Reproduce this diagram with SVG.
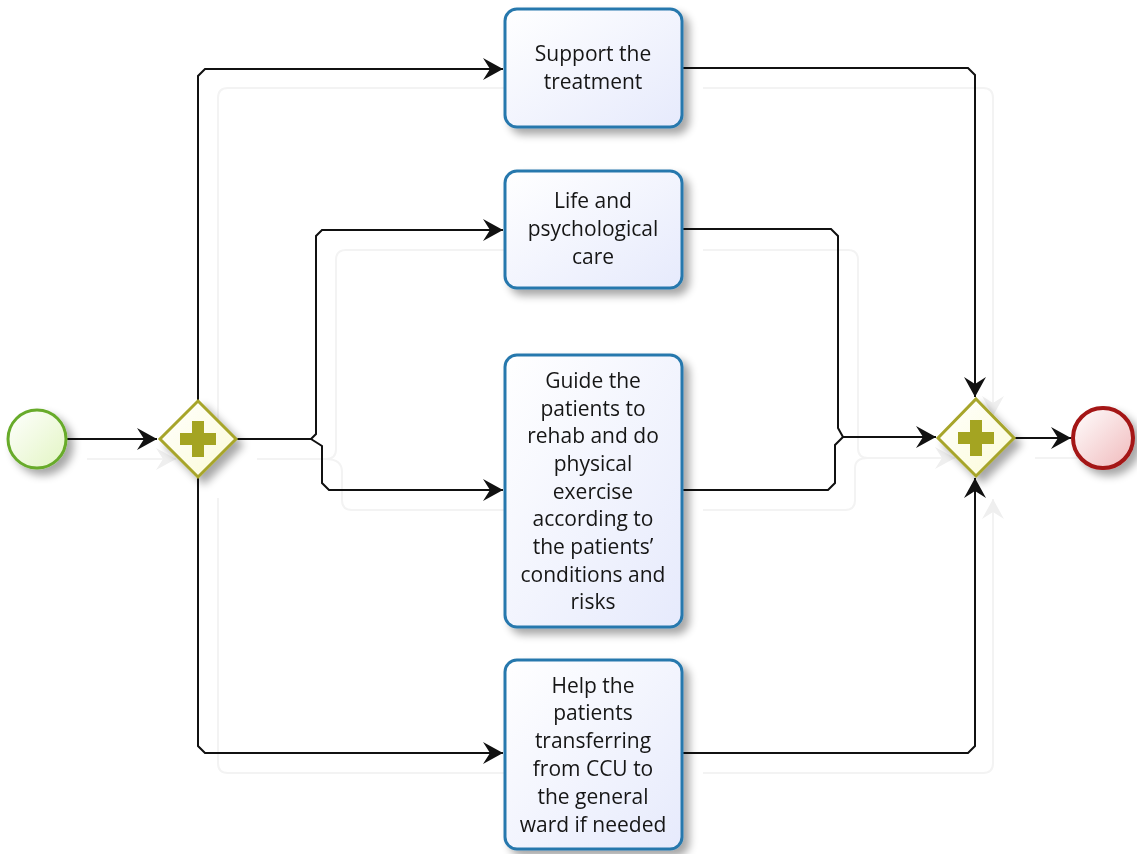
<svg xmlns="http://www.w3.org/2000/svg" width="1137" height="854" viewBox="0 0 1137 854">
  <style>
    .flow { fill: none; stroke: #111; stroke-width: 2; stroke-linejoin: miter; }
    .ghost { fill: none; stroke: #f3f3f3; stroke-width: 2; }
    .task rect { fill: url(#taskFill); stroke: #2878ad; stroke-width: 3; }
    .task text { font-family: "Open Sans", "Noto Sans", "DejaVu Sans", sans-serif; font-size: 21px; fill: #161616; text-anchor: middle; }
    .gw polygon { fill: url(#gwFill); stroke: #a7a52b; stroke-width: 3; stroke-linejoin: miter; }
    .gw path { fill: #a4a424; }
  </style>
  <defs>
    <linearGradient id="taskFill" x1="0" y1="0" x2="1" y2="1">
      <stop offset="0" stop-color="#ffffff"/>
      <stop offset="1" stop-color="#e6eafc"/>
    </linearGradient>
    <linearGradient id="gwFill" x1="0" y1="0" x2="1" y2="1">
      <stop offset="0" stop-color="#ffffff"/>
      <stop offset="1" stop-color="#fbfbd6"/>
    </linearGradient>
    <linearGradient id="startFill" x1="0" y1="0" x2="1" y2="1">
      <stop offset="0" stop-color="#ffffff"/>
      <stop offset="1" stop-color="#e2f5c2"/>
    </linearGradient>
    <linearGradient id="endFill" x1="0" y1="0" x2="1" y2="1">
      <stop offset="0" stop-color="#ffffff"/>
      <stop offset="1" stop-color="#f0b9bb"/>
    </linearGradient>
    <filter id="shadow" x="-20%" y="-20%" width="150%" height="150%">
      <feGaussianBlur in="SourceAlpha" stdDeviation="4"/>
      <feOffset dx="6" dy="6" result="blur"/>
      <feComponentTransfer><feFuncA type="linear" slope="0.35"/></feComponentTransfer>
      <feMerge><feMergeNode/><feMergeNode in="SourceGraphic"/></feMerge>
    </filter>
    <marker id="arrow" viewBox="-21 -12 23 24" refX="0" refY="0" markerWidth="23" markerHeight="24" markerUnits="userSpaceOnUse" orient="auto">
      <path d="M0,0 L-20,-11 L-13,0 L-20,11 Z" fill="#111"/>
    </marker>
    <marker id="ghostArrow" viewBox="-21 -12 23 24" refX="0" refY="0" markerWidth="23" markerHeight="24" markerUnits="userSpaceOnUse" orient="auto">
      <path d="M0,0 L-20,-11 L-13,0 L-20,11 Z" fill="#efefef"/>
    </marker>
  </defs>

  <rect width="1137" height="854" fill="#ffffff"/>

  <!-- faint offset copy of the flows -->
  <g id="ghost-flows" class="ghost">
    <path d="M87,459 H176" marker-end="url(#ghostArrow)"/>
    <path d="M218,420 V98 Q218,88 228,88 H524"/>
    <path d="M218,498 V763 Q218,773 228,773 H524"/>
    <path d="M257,459 H326 Q336,459 336,449 V260 Q336,250 346,250 H524"/>
    <path d="M326,459 Q342,459 342,472 V500 Q342,510 352,510 H524"/>
    <path d="M703,88 H983 Q993,88 993,98 V416" marker-end="url(#ghostArrow)"/>
    <path d="M703,250 H848 Q858,250 858,260 V448 Q858,458 868,458 H955" marker-end="url(#ghostArrow)"/>
    <path d="M703,510 H845 Q855,510 855,500 V468 Q855,458 868,458"/>
    <path d="M703,773 H983 Q993,773 993,763 V499" marker-end="url(#ghostArrow)"/>
    <path d="M1035,458 H1090"/>
  </g>

  <!-- sequence flows -->
  <g id="connectors" class="flow">
    <path d="M67,439 H157" marker-end="url(#arrow)"/>
    <path d="M198,400 V76 L205,69 H503" marker-end="url(#arrow)"/>
    <path d="M198,478 V746 L205,753 H503" marker-end="url(#arrow)"/>
    <path d="M237,439 H311 L316,434 V236 L322,230 H503" marker-end="url(#arrow)"/>
    <path d="M311,439 L322,446 V483 L329,490 H503" marker-end="url(#arrow)"/>
    <path d="M683,68 H968 L975,75 V397" marker-end="url(#arrow)"/>
    <path d="M683,229 H831 L838,236 V428 L843,437 H936" marker-end="url(#arrow)"/>
    <path d="M683,490 H828 L835,483 V445 L843,437"/>
    <path d="M683,753 H968 L975,746 V478" marker-end="url(#arrow)"/>
    <path d="M1015,438 H1071" marker-end="url(#arrow)"/>
  </g>

  <g id="start" filter="url(#shadow)">
    <circle cx="37" cy="439" r="29" fill="url(#startFill)" stroke="#67ab2a" stroke-width="3"/>
  </g>

  <g id="split" class="gw" filter="url(#shadow)">
    <polygon points="198,401 236,439 198,477 160,439"/>
    <path d="M192,421 H204 V433 H216 V445 H204 V457 H192 V445 H180 V433 H192 Z"/>
  </g>

  <g id="task-support" class="task" filter="url(#shadow)">
    <rect x="505" y="9" width="177" height="118" rx="12"/>
    <text x="593" y="61">Support the</text>
    <text x="593" y="89">treatment</text>
  </g>

  <g id="task-care" class="task" filter="url(#shadow)">
    <rect x="505" y="171" width="177" height="117" rx="12"/>
    <text x="593" y="208">Life and</text>
    <text x="593" y="236">psychological</text>
    <text x="593" y="264">care</text>
  </g>

  <g id="task-rehab" class="task" filter="url(#shadow)">
    <rect x="505" y="355" width="177" height="272" rx="12"/>
    <text x="593" y="388">Guide the</text>
    <text x="593" y="416">patients to</text>
    <text x="593" y="443">rehab and do</text>
    <text x="593" y="471">physical</text>
    <text x="593" y="499">exercise</text>
    <text x="593" y="526">according to</text>
    <text x="593" y="554">the patients’</text>
    <text x="593" y="582">conditions and</text>
    <text x="593" y="609">risks</text>
  </g>

  <g id="task-transfer" class="task" filter="url(#shadow)">
    <rect x="505" y="660" width="177" height="189" rx="12"/>
    <text x="593" y="693">Help the</text>
    <text x="593" y="720">patients</text>
    <text x="593" y="748">transferring</text>
    <text x="593" y="776">from CCU to</text>
    <text x="593" y="804">the general</text>
    <text x="593" y="832">ward if needed</text>
  </g>

  <g id="join" class="gw" filter="url(#shadow)">
    <polygon points="976,399 1014,438 976,476 938,438"/>
    <path d="M970,420 H982 V432 H994 V444 H982 V456 H970 V444 H958 V432 H970 Z"/>
  </g>

  <g id="end" filter="url(#shadow)">
    <circle cx="1103" cy="438" r="30" fill="url(#endFill)" stroke="#a41414" stroke-width="4"/>
  </g>
</svg>
